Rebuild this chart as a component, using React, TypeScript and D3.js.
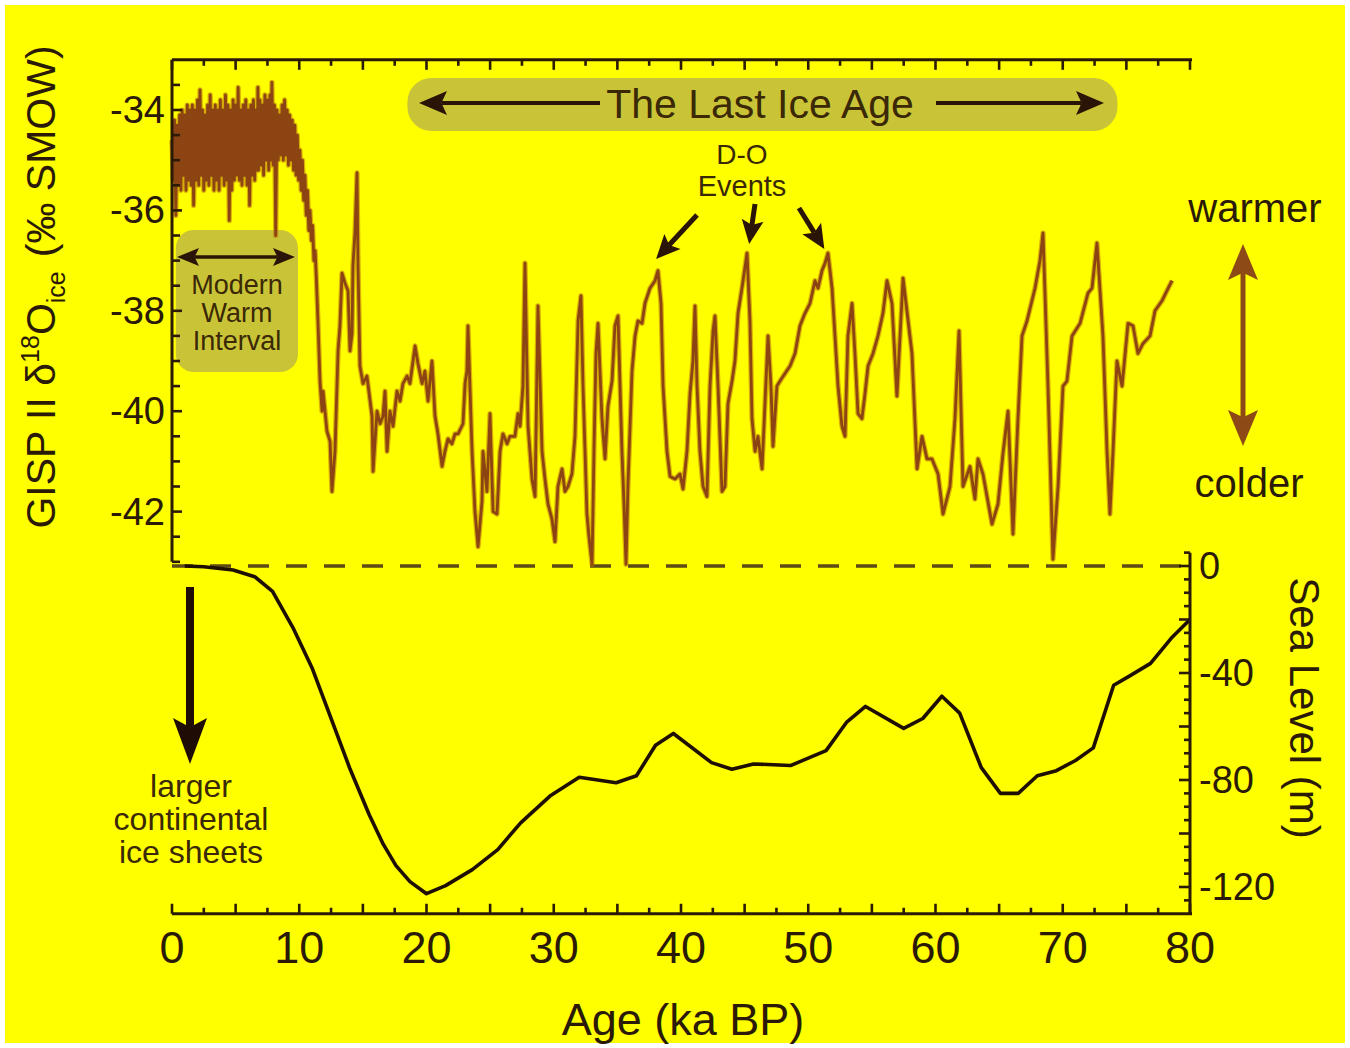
import React, { useRef, useEffect } from 'react';
import * as d3 from 'd3';

type Pt = [number, number];

const W = 1350;
const H = 1048;

// tick labels
const ageTicks = [0, 10, 20, 30, 40, 50, 60, 70, 80];
const iceTicks = [-34, -36, -38, -40, -42];
const seaTicks = [0, -40, -80, -120];

// GISP II d18O (permil), [age ka, value]
const iceHolocene: Pt[] = [
  [0.0, -34.6], [0.1, -35.4], [0.2, -34.2], [0.3, -36.1], [0.4, -34.3], [0.5, -35.5], [0.6, -34.1], [0.7, -35.6], [0.8, -34.0], [0.9, -35.3],
  [1.0, -34.1], [1.1, -35.6], [1.2, -33.9], [1.3, -35.4], [1.4, -34.0], [1.5, -35.5], [1.6, -33.9], [1.7, -35.9], [1.8, -34.0], [1.9, -35.4],
  [2.0, -33.8], [2.1, -35.5], [2.2, -33.6], [2.3, -35.3], [2.4, -34.0], [2.5, -35.6], [2.6, -34.1], [2.7, -35.4], [2.8, -33.9], [2.9, -35.5],
  [3.0, -33.7], [3.1, -35.3], [3.2, -34.0], [3.3, -35.6], [3.4, -33.9], [3.5, -35.4], [3.6, -34.0], [3.7, -35.6], [3.8, -33.8], [3.9, -35.3],
  [4.0, -34.0], [4.1, -35.5], [4.2, -33.7], [4.3, -35.4], [4.4, -33.9], [4.5, -36.2], [4.6, -34.0], [4.7, -35.6], [4.8, -33.8], [4.9, -35.4],
  [5.0, -33.9], [5.1, -35.3], [5.2, -33.55], [5.3, -35.4], [5.4, -34.0], [5.5, -35.5], [5.6, -33.9], [5.7, -35.3], [5.8, -33.8], [5.9, -35.5],
  [6.0, -34.0], [6.1, -35.9], [6.2, -33.9], [6.3, -35.3], [6.4, -33.8], [6.5, -35.4], [6.6, -34.0], [6.7, -35.2], [6.75, -33.55], [6.8, -35.2], [6.9, -33.8],
  [7.0, -35.1], [7.1, -33.9], [7.2, -35.3], [7.3, -33.7], [7.4, -35.0], [7.5, -33.8], [7.6, -35.2], [7.7, -33.7], [7.8, -35.0], [7.85, -33.45], [7.95, -35.1],
  [8.05, -33.9], [8.15, -36.5], [8.25, -34.0], [8.35, -35.0], [8.45, -34.1], [8.55, -34.9], [8.65, -33.9], [8.75, -35.0], [8.85, -33.8], [8.95, -34.9],
  [9.05, -34.0], [9.15, -35.1], [9.25, -34.1], [9.35, -35.0], [9.45, -34.2], [9.55, -35.2], [9.65, -34.3], [9.75, -35.3], [9.85, -34.5], [9.95, -35.4],
];

const iceDeglacial: Pt[] = [
  [10.05, -34.8], [10.15, -35.6], [10.25, -35.0], [10.35, -35.8], [10.45, -35.3], [10.55, -36.1], [10.65, -35.6], [10.75, -36.4],
  [10.85, -36.0], [10.95, -36.6], [11.05, -36.3], [11.15, -37.0], [11.25, -36.8], [11.35, -37.4], [11.47, -38.2], [11.63, -39.4],
  [11.79, -40.0], [11.87, -39.6], [12.18, -40.4], [12.42, -40.6], [12.57, -41.6], [12.81, -40.8], [13.05, -38.8], [13.2, -38.3],
  [13.36, -37.25], [13.6, -37.45], [13.83, -37.6], [13.99, -38.8], [14.15, -38.45], [14.22, -37.1], [14.38, -36.45], [14.54, -35.25],
  [14.62, -37.1], [14.77, -39.1],
];

const iceStage2: Pt[] = [
  [15.01, -39.45], [15.32, -39.3], [15.72, -40.1], [15.8, -41.2], [16.11, -40.0], [16.35, -40.25], [16.58, -40.1], [16.74, -39.6],
  [16.9, -40.8], [17.13, -40.0], [17.37, -40.3], [17.68, -39.6], [17.92, -39.8], [18.15, -39.45], [18.47, -39.3], [18.7, -39.45],
  [19.1, -38.7], [19.33, -39.05], [19.65, -39.45], [19.88, -39.2], [20.12, -39.8], [20.43, -39.0], [20.67, -40.1], [20.9, -40.45],
  [21.22, -41.1], [21.45, -40.8], [21.69, -40.55], [22.0, -40.65], [22.24, -40.45], [22.48, -40.45], [22.87, -40.25], [23.03, -39.45],
  [23.18, -39.2], [23.26, -38.3], [23.58, -40.8], [23.81, -42.0], [24.05, -42.7], [24.36, -41.8], [24.44, -40.8], [24.75, -41.6],
  [24.99, -40.05], [25.23, -42.0], [25.54, -42.05], [25.78, -40.8], [26.01, -40.45], [26.33, -40.65], [26.56, -40.5], [26.95, -40.5],
  [27.19, -40.05], [27.35, -40.3], [27.58, -39.5], [27.74, -37.05], [27.98, -40.3], [28.29, -41.35], [28.53, -41.7], [28.76, -37.9],
  [29.08, -40.8], [29.31, -41.35], [29.55, -41.85], [29.86, -42.15], [30.1, -42.6], [30.33, -41.5], [30.65, -41.15], [30.88, -41.6],
  [31.12, -41.5], [31.43, -41.25], [31.67, -40.5], [31.91, -38.2], [32.14, -37.7], [32.3, -39.5], [32.61, -42.05], [32.77, -42.5],
  [33.01, -43.05], [33.16, -40.8], [33.32, -38.85], [33.48, -38.25], [33.79, -40.15], [34.03, -40.95], [34.26, -39.9], [34.58, -39.4],
  [34.81, -38.3],
];

const iceStage3: Pt[] = [
  [35.05, -38.1], [35.36, -40.8], [35.52, -41.85], [35.68, -43.05], [35.83, -41.5], [36.15, -39.2], [36.39, -38.5], [36.62, -38.2],
  [36.94, -38.25], [37.17, -37.85], [37.56, -37.55], [37.96, -37.4], [38.19, -37.2], [38.43, -37.85], [38.59, -39.5], [38.9, -40.8],
  [39.14, -41.3], [39.53, -41.35], [39.92, -41.25], [40.16, -41.55], [40.47, -40.8], [40.71, -39.65], [40.94, -39.0], [41.1, -37.9],
  [41.26, -39.5], [41.49, -40.8], [41.73, -41.5], [42.04, -41.7], [42.28, -39.5], [42.52, -38.4], [42.67, -38.1], [42.91, -39.5],
  [43.22, -41.6], [43.46, -41.5], [43.69, -39.85], [44.01, -39.4], [44.24, -39.0], [44.48, -38.05], [44.79, -37.55], [45.19, -36.85],
  [45.42, -38.2], [45.58, -40.15], [45.82, -40.8], [46.05, -40.5], [46.37, -41.15], [46.6, -39.85], [46.84, -38.5], [47.07, -39.5],
  [47.23, -40.7], [47.54, -39.5], [47.78, -39.4], [48.17, -39.25], [48.57, -39.1], [48.96, -38.85], [49.35, -38.3], [49.74, -38.05],
  [50.14, -37.85], [50.53, -37.4], [50.77, -37.55], [51.08, -37.2], [51.32, -37.05], [51.55, -36.85], [51.87, -37.55], [52.1, -38.5],
  [52.34, -39.5], [52.65, -40.3], [52.89, -40.5], [53.12, -38.5], [53.44, -37.85], [53.67, -38.85], [53.91, -40.05], [54.22, -40.15],
  [54.46, -39.65], [54.7, -39.1],
];

const iceStage4: Pt[] = [
  [55.09, -38.85], [55.48, -38.5], [55.87, -38.05], [56.19, -37.4], [56.58, -37.85], [56.97, -39.7], [57.45, -37.35], [58.15, -38.85],
  [58.55, -41.15], [58.94, -40.5], [59.33, -40.95], [59.72, -40.95], [60.2, -41.25], [60.59, -42.05], [61.14, -41.5], [61.53, -40.15],
  [61.85, -38.4], [62.16, -41.5], [62.71, -41.1], [63.1, -41.75], [63.34, -40.95], [63.73, -41.25], [64.44, -42.25], [64.91, -41.85],
  [65.3, -40.85], [65.7, -40.0], [66.09, -42.45], [66.48, -40.15], [66.8, -38.5], [67.19, -38.2], [67.82, -37.55], [68.21, -37.0],
  [68.45, -36.45], [68.84, -39.5], [69.23, -42.95], [69.63, -41.5], [70.02, -39.5], [70.33, -39.4], [70.73, -38.5], [71.36, -38.25],
  [71.98, -37.65], [72.3, -37.55], [72.69, -36.65], [73.16, -38.5], [73.48, -40.8], [73.71, -42.05], [73.95, -40.8], [74.26, -39.0],
  [74.66, -39.5], [75.13, -38.25], [75.52, -38.3], [75.91, -38.85], [76.31, -38.65], [76.86, -38.5], [77.25, -38.0], [77.8, -37.8],
  [78.19, -37.6], [78.59, -37.4],
];

// sea level (m), [age ka, value]
const seaLevel: Pt[] = [
  [1.0, 0], [2.5, -0.3], [4.8, -1.5], [6.5, -4], [7.9, -9.5], [9.5, -23], [11.0, -38], [12.5, -57], [14.0, -76],
  [15.5, -93], [16.6, -104], [17.6, -112], [18.7, -118], [20.0, -122.5], [21.5, -119.5], [23.6, -113.5], [25.6, -106],
  [27.4, -96], [29.7, -86], [32.0, -79], [34.9, -81], [36.5, -78.4], [38.0, -67], [39.4, -62.6], [42.4, -73.5],
  [44.0, -76], [45.7, -74], [48.6, -74.6], [51.4, -69], [53.0, -58.5], [54.5, -52.5], [57.5, -60.7], [59.0, -57],
  [60.5, -48.7], [61.9, -55], [63.6, -75.4], [65.1, -85], [66.5, -85], [68.0, -78.4], [69.5, -76.5], [71.0, -72.7],
  [72.4, -68], [74.0, -44.6], [75.3, -41], [76.9, -36.4], [78.6, -26.6], [80, -20],
];

const FONT = "'Liberation Sans', Arial, Helvetica, sans-serif";
const INK = '#2b1a06';
const OLIVE = '#c9c437';
const BROWN = '#8e4a16';

// line with a filled, slightly notched head at (x2, y2)
function arrow(g: any, x1: number, y1: number, x2: number, y2: number, w: number, len: number, half: number, color: string) {
  const a = Math.atan2(y2 - y1, x2 - x1);
  const ux = Math.cos(a), uy = Math.sin(a);
  const px = -uy, py = ux;
  const bx = x2 - ux * len, by = y2 - uy * len;
  const nx = x2 - ux * len * 0.8, ny = y2 - uy * len * 0.8;
  g.append('line')
    .attr('x1', x1).attr('y1', y1).attr('x2', nx).attr('y2', ny)
    .attr('stroke', color).attr('stroke-width', w);
  g.append('path')
    .attr('d', `M${x2},${y2}L${bx + px * half},${by + py * half}L${nx},${ny}L${bx - px * half},${by - py * half}Z`)
    .attr('fill', color);
}

const Chart = () => {
  const ref = useRef<SVGSVGElement>(null);

  useEffect(() => {
    const svg = d3.select(ref.current);
    svg.selectAll('*').remove();

    const x = d3.scaleLinear().domain([0, 80]).range([172, 1190]);
    const yIce = d3.scaleLinear().domain([-42, -34]).range([511.6, 110]);
    const ySea = d3.scaleLinear().domain([-120, 0]).range([887, 566]);

    const top = yIce(-33);
    const bottom = ySea(-130);

    // page + yellow panel
    svg.append('rect').attr('width', W).attr('height', H).attr('fill', '#ffffff');
    svg.append('rect').attr('x', 5).attr('y', 5).attr('width', W - 10).attr('height', H - 10).attr('fill', '#ffff00');

    // shaded labels
    svg.append('rect')
      .attr('x', x(18.5)).attr('y', 78).attr('width', x(74.3) - x(18.5)).attr('height', 53)
      .attr('rx', 24).attr('fill', OLIVE);
    svg.append('rect')
      .attr('x', x(0.3)).attr('y', 230).attr('width', x(9.9) - x(0.3)).attr('height', 142)
      .attr('rx', 18).attr('fill', OLIVE);

    // sea level zero line
    svg.append('line')
      .attr('x1', x(0)).attr('x2', x(80)).attr('y1', ySea(0)).attr('y2', ySea(0))
      .attr('stroke', '#5e4b14').attr('stroke-width', 3.5).attr('stroke-dasharray', '21 17');

    // ice core trace
    const iceData = [...iceHolocene, ...iceDeglacial, ...iceStage2, ...iceStage3, ...iceStage4];
    const iceLine = d3.line<Pt>().x((d) => x(d[0])).y((d) => yIce(d[1]));
    svg.append('path').attr('d', iceLine(iceData))
      .attr('fill', 'none').attr('stroke', '#c07a0c').attr('stroke-width', 5.2)
      .attr('stroke-opacity', 0.6).attr('stroke-linejoin', 'round');
    svg.append('path').attr('d', iceLine(iceData))
      .attr('fill', 'none').attr('stroke', '#8c4512').attr('stroke-width', 2.8)
      .attr('stroke-linejoin', 'round');

    // sea level curve
    const seaLine = d3.line<Pt>().x((d) => x(d[0])).y((d) => ySea(d[1]));
    svg.append('path').attr('d', seaLine(seaLevel))
      .attr('fill', 'none').attr('stroke', '#1f0f00').attr('stroke-width', 3.6)
      .attr('stroke-linejoin', 'round');

    // axes
    const ax = svg.append('g').attr('stroke', INK).attr('stroke-width', 2.6);
    ax.append('line').attr('x1', x(0)).attr('x2', x(80) + 2).attr('y1', top).attr('y2', top).attr('stroke-width', 3);
    ax.append('line').attr('x1', x(0)).attr('x2', x(80) + 2).attr('y1', bottom).attr('y2', bottom).attr('stroke-width', 3);
    ax.append('line').attr('x1', x(0)).attr('x2', x(0)).attr('y1', top).attr('y2', yIce(-43)).attr('stroke-width', 3);
    ax.append('line').attr('x1', x(80)).attr('x2', x(80)).attr('y1', ySea(5)).attr('y2', bottom).attr('stroke-width', 3);

    const ageMinor = d3.range(0, 80.01, 2.5);
    ax.selectAll('.tt').data(ageMinor).join('line')
      .attr('x1', (d) => x(d)).attr('x2', (d) => x(d))
      .attr('y1', top).attr('y2', (d) => top + (d % 5 === 0 ? 10 : 6));
    ax.selectAll('.bt').data(ageMinor).join('line')
      .attr('x1', (d) => x(d)).attr('x2', (d) => x(d))
      .attr('y1', bottom).attr('y2', (d) => bottom - (d % 5 === 0 ? 10 : 6));

    const iceMinor = d3.range(-43, -33.4, 0.5);
    ax.selectAll('.lt').data(iceMinor).join('line')
      .attr('x1', x(0)).attr('x2', (d) => x(0) + (d % 2 === 0 ? 10 : 8))
      .attr('y1', (d) => yIce(d)).attr('y2', (d) => yIce(d));

    const seaMinor = d3.range(-125, 5.1, 5);
    ax.selectAll('.rt').data(seaMinor).join('line')
      .attr('x1', x(80)).attr('x2', (d) => x(80) - (d % 20 === 0 ? 11 : 6))
      .attr('y1', (d) => ySea(d)).attr('y2', (d) => ySea(d));

    // tick labels
    const txt = svg.append('g').attr('font-family', FONT).attr('fill', INK);
    txt.selectAll('.al').data(ageTicks).join('text')
      .attr('x', (d) => x(d)).attr('y', 963).attr('text-anchor', 'middle')
      .attr('font-size', 45).text((d) => d);
    txt.selectAll('.il').data(iceTicks).join('text')
      .attr('x', x(0) - 7).attr('y', (d) => yIce(d) + 13).attr('text-anchor', 'end')
      .attr('font-size', 38).text((d) => d);
    txt.selectAll('.sl').data(seaTicks).join('text')
      .attr('x', x(80) + 9).attr('y', (d) => ySea(d) + 13).attr('text-anchor', 'start')
      .attr('font-size', 38).text((d) => d);

    // axis titles
    txt.append('text').attr('x', 683).attr('y', 1035).attr('text-anchor', 'middle')
      .attr('font-size', 45).text('Age (ka BP)');

    const yl = txt.append('text').attr('transform', 'translate(55,287) rotate(-90)')
      .attr('text-anchor', 'middle').attr('font-size', 41);
    yl.append('tspan').text('GISP II δ');
    yl.append('tspan').attr('font-size', 25).attr('dy', -16).text('18');
    yl.append('tspan').attr('dy', 16).text('O');
    yl.append('tspan').attr('font-size', 25).attr('dy', 10).text('ice');
    yl.append('tspan').attr('dy', -10).attr('dx', 14).text('(‰ SMOW)');

    txt.append('text').attr('transform', 'translate(1290,708) rotate(90)')
      .attr('text-anchor', 'middle').attr('font-size', 42).text('Sea Level (m)');

    // annotations
    const ann = svg.append('g');
    const note = ann.append('g').attr('font-family', FONT).attr('fill', '#3a2806').attr('text-anchor', 'middle');
    note.append('text').attr('x', 760).attr('y', 118).attr('font-size', 41).text('The Last Ice Age');
    arrow(ann, 600, 103, 419, 103, 4, 28, 12, '#2a1405');
    arrow(ann, 936, 103, 1104, 103, 4, 28, 12, '#2a1405');

    note.append('text').attr('x', 742).attr('y', 164).attr('font-size', 28).text('D-O');
    note.append('text').attr('x', 742).attr('y', 196).attr('font-size', 29).text('Events');
    arrow(ann, 697, 215, x(38.2) - 2, 259, 5, 24, 11, '#2a1405');
    arrow(ann, 755, 204, x(45.2) + 2, 244, 5, 24, 11, '#2a1405');
    arrow(ann, 799, 208, x(51.5) - 3, 249, 5, 24, 11, '#2a1405');

    note.append('text').attr('x', 237).attr('y', 294).attr('font-size', 27).text('Modern');
    note.append('text').attr('x', 237).attr('y', 322).attr('font-size', 27).text('Warm');
    note.append('text').attr('x', 237).attr('y', 350).attr('font-size', 27).text('Interval');
    arrow(ann, 236, 257, 177, 257, 3.5, 22, 9, '#2a1405');
    arrow(ann, 236, 257, 295, 257, 3.5, 22, 9, '#2a1405');

    note.append('text').attr('x', 191).attr('y', 797).attr('font-size', 32).text('larger');
    note.append('text').attr('x', 191).attr('y', 830).attr('font-size', 32).text('continental');
    note.append('text').attr('x', 191).attr('y', 863).attr('font-size', 32).text('ice sheets');
    arrow(ann, 190, 587, 190, 764, 8, 46, 17, '#1f0d05');

    note.append('text').attr('x', 1255).attr('y', 222).attr('font-size', 40).attr('fill', INK).text('warmer');
    note.append('text').attr('x', 1249).attr('y', 497).attr('font-size', 40).attr('fill', INK).text('colder');
    arrow(ann, 1243, 345, 1243, 244, 5, 36, 15, BROWN);
    arrow(ann, 1243, 345, 1243, 446, 5, 36, 15, BROWN);
  }, []);

  return <svg ref={ref} width={W} height={H} style={{ position: 'absolute', left: 0, top: 0 }} />;
};

export default function App() {
  return <Chart />;
}
